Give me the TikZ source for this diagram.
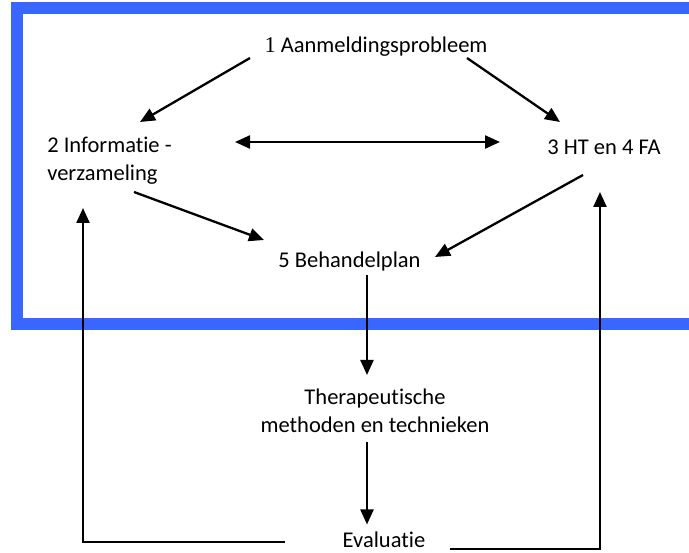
\documentclass[tikz,border=0pt]{standalone}
\usepackage{fontspec}
\setmainfont{Carlito}[Ligatures=NoCommon]
\newfontfamily\serifdigit{Liberation Serif}
\usetikzlibrary{arrows.meta}
\definecolor{frameblue}{RGB}{56,102,255}
\tikzset{
  lbl/.style={inner sep=0pt, font=\fontsize{22.5}{28}\selectfont},
  conn/.style={line width=2.3pt, -{Triangle[length=15pt,width=13pt]}},
  dconn/.style={line width=2.3pt, {Triangle[length=15pt,width=13pt]}-{Triangle[length=15pt,width=13pt]}},
  frame/.style={line width=12pt, draw=frameblue}
}
\begin{document}
\begin{tikzpicture}[x=1pt,y=-1pt]
\useasboundingbox (0,0) rectangle (689,553);
\clip (0,0) rectangle (689,553);
\fill[white] (0,0) rectangle (689,553);
\draw[frame] (17,8.5) rectangle (760,324.5);
\node[lbl] (A) at (376,47) {{\serifdigit 1} Aanmeldingsprobleem};
\node[lbl, align=left] (B) at (109.5,161) {2 Informatie -\\verzameling};
\node[lbl] (C) at (604,147) {3 HT en 4 FA};
\node[lbl] (D) at (349.5,262) {5 Behandelplan};
\node[lbl, align=center] (E) at (375,411) {Therapeutische\\methoden en technieken};
\node[lbl] (F) at (384,540) {Evaluatie};
\draw[conn] ([shift={(-126,11)}]A.center) -- ([shift={(30.5,-39)}]B.center);
\draw[conn] ([shift={(91,11)}]A.center) -- ([shift={(-44,-25)}]C.center);
\draw[dconn] ([shift={(125.5,-19)}]B.center) -- ([shift={(-104,-5)}]C.center);
\draw[conn] ([shift={(24.5,31)}]B.center) -- ([shift={(-85.5,-22)}]D.center);
\draw[conn] ([shift={(-21,28)}]C.center) -- ([shift={(85.5,-5)}]D.center);
\draw[conn] ([shift={(17.5,13)}]D.center) -- ([shift={(-8,-36)}]E.center);
\draw[conn] ([shift={(-8,31)}]E.center) -- ([shift={(-17,-15.5)}]F.center);
\draw[conn] ([shift={(-99,2)}]F.center) -| ([shift={(-26.5,47)}]B.center);
\draw[conn] ([shift={(66,9)}]F.center) -| ([shift={(-4,45)}]C.center);
\end{tikzpicture}
\end{document}
